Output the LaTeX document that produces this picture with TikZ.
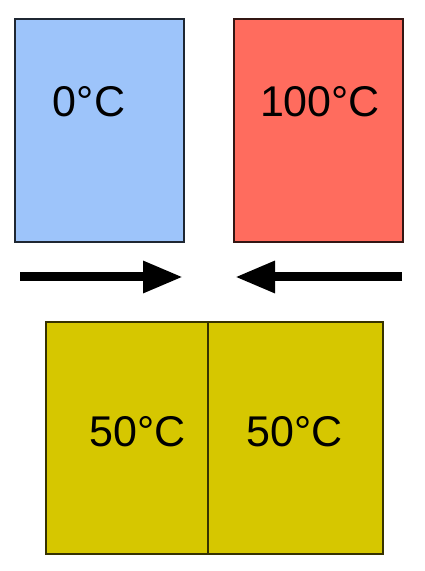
\documentclass[tikz,border=0pt]{standalone}
\usepackage{fontspec}
\setmainfont{Liberation Sans}
\usetikzlibrary{arrows.meta}

\definecolor{coldblue}{RGB}{157,196,250}
\definecolor{hotred}{RGB}{255,108,94}
\definecolor{warmyellow}{RGB}{214,199,0}

\begin{document}
\begin{tikzpicture}[x=1pt, y=1pt, every node/.style={font=\fontsize{43}{43}\selectfont},
  block/.style={draw, line width=1.8pt, inner sep=0pt, anchor=south west},
  push/.style={-{Triangle[length=40pt, width=30pt]}, line width=9pt}]

      % Fix the page size
      \useasboundingbox (0, 0) rectangle (425, 571);

      % Draw the two bodies before contact
      \node[block, fill=coldblue, draw=coldblue!20!black,
        minimum width=169pt, minimum height=223pt] (cold) at (14, 328) {};
      \node[block, fill=hotred, draw=hotred!20!black,
        minimum width=169pt, minimum height=223pt] (hot) at (233, 328) {};

      % Temperatures before contact
      \node (coldtemp) at (89, 469) {0°C};
      \node (hottemp) at (320, 469) {100°C};

      % Arrows pushing the bodies together
      \coordinate (coldtail) at (20, 294);
      \coordinate (coldtip) at (183, 294);
      \coordinate (hottail) at (402, 294);
      \coordinate (hottip) at (235, 294);
      \draw[push] (coldtail) -- (coldtip);
      \draw[push] (hottail) -- (hottip);

      % Draw the two bodies after contact
      \node[block, fill=warmyellow, draw=warmyellow!25!black,
        minimum width=162pt, minimum height=232pt] (lefthalf) at (45, 16) {};
      \node[block, fill=warmyellow, draw=warmyellow!25!black,
        minimum width=175pt, minimum height=232pt] (righthalf) at (207, 16) {};

      % Temperatures after contact
      \node (lefttemp) at (138, 139) {50°C};
      \node (righttemp) at (295, 139) {50°C};
    \end{tikzpicture}
\end{document}
